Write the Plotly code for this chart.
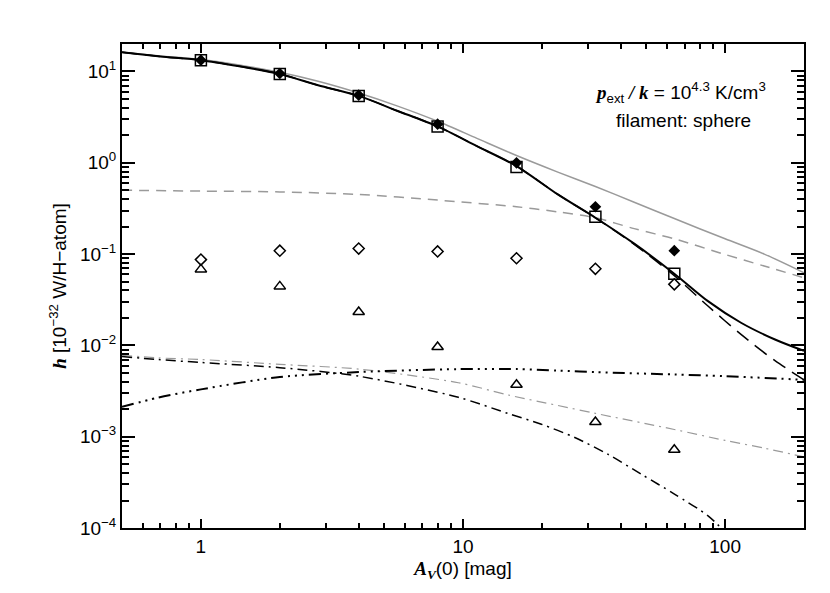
import plotly.graph_objects as go

# ---------------- data ----------------
av_points = [1, 2, 4, 8, 16, 32, 64]
h_total_filled = [13.3, 9.5, 5.5, 2.65, 1.0, 0.33, 0.109]      # filled diamonds
h_total_square = [13.3, 9.4, 5.4, 2.5, 0.90, 0.256, 0.061]     # open squares
h_open_diamond = [0.087, 0.109, 0.115, 0.107, 0.090, 0.069, 0.0466]
h_triangle = [0.068, 0.0443, 0.0232, 0.0096, 0.0037, 0.00145, 0.00072]

x_black_solid = [0.5, 0.7, 1, 1.4, 2, 2.8, 4, 5.6, 8, 11.3, 16, 23, 32, 45, 64, 86, 115, 155, 200]
y_black_solid = [16.2, 14.6, 13.3, 11.4, 9.4, 7.06, 5.4, 3.72, 2.5, 1.52, 0.92, 0.45, 0.25, 0.13,
                 0.061, 0.0305, 0.0177, 0.0116, 0.0087]

x_black_dash = [0.5, 0.7, 1, 1.4, 2, 2.8, 4, 5.6, 8, 11.3, 16, 23, 32, 45, 64, 86, 115, 155, 200]
y_black_dash = [16.2, 14.6, 13.3, 11.4, 9.4, 7.06, 5.4, 3.72, 2.5, 1.52, 0.92, 0.45, 0.25, 0.128,
                0.058, 0.027, 0.0132, 0.0068, 0.0042]

x_gray_solid = [0.5, 0.7, 1, 1.4, 2, 2.8, 4, 5.6, 8, 11.3, 16, 23, 32, 45, 64, 100, 141, 200]
y_gray_solid = [16.2, 14.8, 13.5, 11.8, 9.8, 7.8, 5.8, 4.2, 2.85, 1.85, 1.2, 0.79, 0.55, 0.37,
                0.245, 0.147, 0.1, 0.0625]

x_gray_dash = [0.5, 1, 2, 4, 8, 16, 23, 32, 45, 64, 100, 141, 200]
y_gray_dash = [0.50, 0.49, 0.48, 0.45, 0.39, 0.33, 0.29, 0.25, 0.19, 0.147, 0.099, 0.074, 0.055]

x_dash3dot = [0.5, 0.686, 1, 2, 4, 9.6, 16, 23, 32, 64, 100, 200]
y_dash3dot = [0.00212, 0.00268, 0.0033, 0.0045, 0.0051, 0.0055, 0.0055, 0.0053, 0.0051, 0.0048,
              0.0046, 0.0042]

x_black_dashdot = [0.5, 0.686, 1, 2, 4, 9.6, 14.9, 19.9, 26.7, 35.8, 47.9, 64.3, 86.1, 100]
y_black_dashdot = [0.00755, 0.0070, 0.0065, 0.0057, 0.0046, 0.0027, 0.00179, 0.00137, 0.00098,
                   0.00064, 0.000388, 0.000234, 0.000136, 0.00009]

x_gray_dashdot = [0.5, 0.686, 1, 2, 4, 9.6, 14.9, 23, 32, 64, 100, 141, 200]
y_gray_dashdot = [0.0078, 0.0073, 0.0070, 0.0062, 0.0055, 0.0039, 0.00286, 0.0022, 0.0018,
                  0.0012, 0.00091, 0.00075, 0.0006]

x_tickvals = [1, 10, 100]
x_ticktext = ["1", "10", "100"]
y_tickvals = [1e-4, 1e-3, 1e-2, 1e-1, 1, 10]
y_ticktext = ["10<sup>\u22124</sup>", "10<sup>\u22123</sup>", "10<sup>\u22122</sup>",
              "10<sup>\u22121</sup>", "10<sup>0</sup>", "10<sup>1</sup>"]

GRAY = "#9a9a9a"
FONT = "Liberation Sans, Arial, Helvetica, sans-serif"

fig = go.Figure()

def line(x, y, color, width, dash):
    fig.add_trace(go.Scatter(x=x, y=y, mode="lines", line=dict(color=color, width=width, dash=dash,
                                                               shape="spline", smoothing=0.8),
                             hoverinfo="skip"))

line(x_gray_solid, y_gray_solid, GRAY, 1.5, "solid")
line(x_gray_dash, y_gray_dash, GRAY, 1.5, "10px,7px")
line(x_gray_dashdot, y_gray_dashdot, GRAY, 1.2, "10px,5px,2px,5px")
line(x_black_dashdot, y_black_dashdot, "black", 1.5, "10px,5px,2px,5px")
line(x_dash3dot, y_dash3dot, "black", 2, "12px,5px,2px,5px,2px,5px,2px,5px")
line(x_black_dash, y_black_dash, "black", 1.5, "15px,8px")
line(x_black_solid, y_black_solid, "black", 2, "solid")

fig.add_trace(go.Scatter(x=av_points, y=h_total_filled, mode="markers",
                         marker=dict(symbol="diamond", size=9, color="black")))
fig.add_trace(go.Scatter(x=av_points, y=h_total_square, mode="markers",
                         marker=dict(symbol="square-open", size=11, color="black", line=dict(width=1.5))))
fig.add_trace(go.Scatter(x=av_points, y=h_open_diamond, mode="markers",
                         marker=dict(symbol="diamond-open", size=8.5, color="black", line=dict(width=1.5))))
fig.add_trace(go.Scatter(x=av_points, y=h_triangle, mode="markers",
                         marker=dict(symbol="triangle-up-open", size=10, color="black", line=dict(width=1.5))))

axis_common = dict(showline=True, linecolor="black", linewidth=2, mirror="ticks",
                   ticks="inside", tickcolor="black", tickwidth=2, showgrid=False, zeroline=False,
                   automargin=False,
                   tickfont=dict(family=FONT, size=19, color="black"))

fig.update_xaxes(type="log", range=[-0.30103, 2.30103], tickvals=x_tickvals, ticktext=x_ticktext,
                 ticklen=9, minor=dict(ticks="inside", ticklen=5, tickwidth=2, tickcolor="black",
                                       dtick="D1", showgrid=False),
                 title=dict(text="<span style='font-family:Liberation Serif'><b><i>A<sub>V</sub></i></b></span>(0) [mag]",
                            font=dict(family=FONT, size=19, color="black"), standoff=6),
                 **axis_common)
fig.update_yaxes(type="log", range=[-4, 1.30103], tickvals=y_tickvals, ticktext=y_ticktext,
                 ticklen=13, minor=dict(ticks="inside", ticklen=7, tickwidth=2, tickcolor="black",
                                        dtick="D1", showgrid=False),
                 title=dict(text="<span style='font-family:Liberation Serif'><b><i>h</i></b></span> [10<sup>\u221232</sup> W/H\u2212atom]",
                            font=dict(family=FONT, size=19, color="black"), standoff=8),
                 **axis_common)

fig.add_annotation(xref="paper", yref="paper", x=(672 - 114) / 682, y=(520 - 84) / 484,
                   text="<span style='font-family:Liberation Serif'><b><i>p</i></b></span><sub>ext</sub>"
                        "<span style='font-family:Liberation Serif'><b><i> / k</i></b></span> = 10<sup>4.3</sup> K/cm<sup>3</sup>",
                   showarrow=False, font=dict(family=FONT, size=19, color="black"),
                   xanchor="center", yanchor="middle")
fig.add_annotation(xref="paper", yref="paper", x=(675 - 114) / 682, y=(520 - 112) / 484,
                   text="filament: sphere", showarrow=False,
                   font=dict(family=FONT, size=19, color="black"), xanchor="center", yanchor="middle")

fig.update_layout(width=830, height=593, margin=dict(l=114, r=34, t=36, b=73),
                  plot_bgcolor="white", paper_bgcolor="white", showlegend=False,
                  font=dict(family=FONT, color="black"))

fig.write_html("out.html")
